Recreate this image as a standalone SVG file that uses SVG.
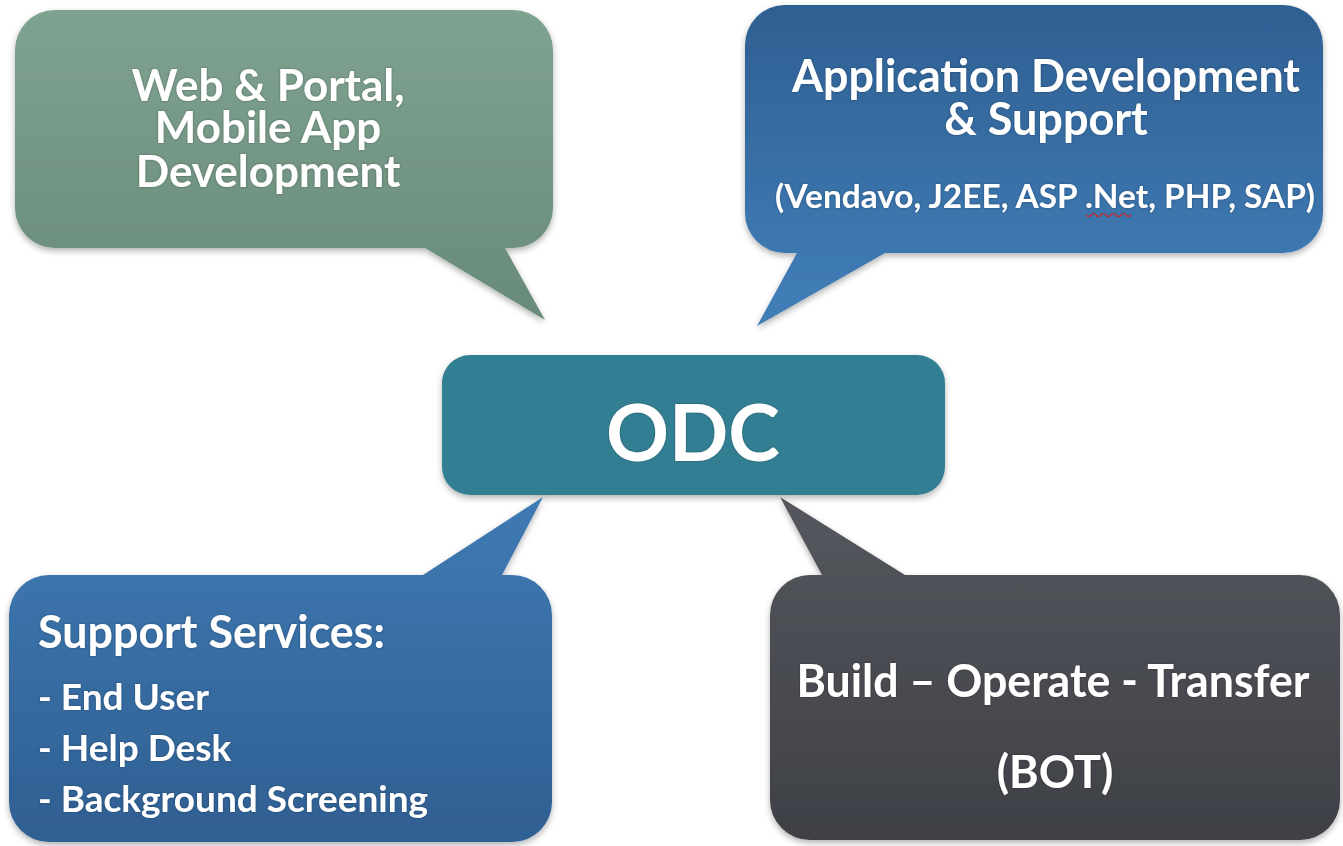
<svg xmlns="http://www.w3.org/2000/svg" width="1343" height="846" viewBox="0 0 1343 846">
<defs>
<linearGradient id="gGreen" x1="0" y1="0" x2="0" y2="1"><stop offset="0" stop-color="#80a290"/><stop offset="1" stop-color="#688a78"/></linearGradient>
<linearGradient id="gBlueTop" x1="0" y1="0" x2="0" y2="1"><stop offset="0" stop-color="#2e5f92"/><stop offset="1" stop-color="#427fb9"/></linearGradient>
<linearGradient id="gBlueBot" x1="0" y1="0" x2="0" y2="1"><stop offset="0" stop-color="#3f7ab3"/><stop offset="1" stop-color="#2f5f92"/></linearGradient>
<linearGradient id="gGray" x1="0" y1="0" x2="0" y2="1"><stop offset="0" stop-color="#55575e"/><stop offset="1" stop-color="#3f4046"/></linearGradient>
<filter id="sh" x="-5%" y="-5%" width="110%" height="115%"><feDropShadow dx="0" dy="3" stdDeviation="3" flood-color="#000" flood-opacity="0.3"/></filter>
<filter id="tsh" x="-5%" y="-20%" width="110%" height="140%"><feDropShadow dx="0" dy="0" stdDeviation="1" flood-color="#000" flood-opacity="0.35"/></filter>
</defs>
<style>
text{font-family:Lato,"Open Sans","Liberation Sans",sans-serif;font-weight:bold;fill:#fff;}
.c{text-anchor:middle;}
</style>
<rect width="1343" height="846" fill="#fff"/>
<g id="connectors"></g>
<g id="web" filter="url(#sh)">
<path d="M55,10 H513 A40,40 0 0 1 553,50 V208 A40,40 0 0 1 513,248 H505 L545,320 L425,248 H55 A40,40 0 0 1 15,208 V50 A40,40 0 0 1 55,10 Z" fill="url(#gGreen)"/>
<g filter="url(#tsh)">
<text class="c" x="268" y="101" font-size="44">Web &amp; Portal,</text>
<text class="c" x="268" y="143" font-size="44">Mobile App</text>
<text class="c" x="268" y="187" font-size="44">Development</text>
</g>
</g>
<g id="app" filter="url(#sh)">
<path d="M785,5 H1283 A40,40 0 0 1 1323,45 V213 A40,40 0 0 1 1283,253 H885 L757,326 L797,253 H785 A40,40 0 0 1 745,213 V45 A40,40 0 0 1 785,5 Z" fill="url(#gBlueTop)"/>
<g filter="url(#tsh)">
<text x="792" y="92" font-size="45" textLength="508" lengthAdjust="spacingAndGlyphs">Application Development</text>
<text class="c" x="1046" y="135" font-size="45">&amp; Support</text>
<text class="c" x="1045" y="208" font-size="33" textLength="540" lengthAdjust="spacingAndGlyphs">(Vendavo, J2EE, ASP .Net, PHP, SAP)</text>
</g>
<path d="M1086,215 q2.5,3 5,0 t5,0 t5,0 t5,0 t5,0 t5,0 t5,0 t5,0 t5,0" fill="none" stroke="#d02020" stroke-width="1.2"/>
</g>
<g id="odc" filter="url(#sh)">
<rect x="442" y="355" width="503" height="140" rx="28" fill="#337f93"/>
<text class="c" x="693" y="461" font-size="78" filter="url(#tsh)">ODC</text>
</g>
<g id="support" filter="url(#sh)">
<path d="M49,575 H423 L543,497 L502,575 H512 A40,40 0 0 1 552,615 V802 A40,40 0 0 1 512,842 H49 A40,40 0 0 1 9,802 V615 A40,40 0 0 1 49,575 Z" fill="url(#gBlueBot)"/>
<g filter="url(#tsh)">
<text x="38" y="648" font-size="45" textLength="347" lengthAdjust="spacingAndGlyphs">Support Services:</text>
<text x="38" y="710" font-size="37">- End User</text>
<text x="38" y="761" font-size="37">- Help Desk</text>
<text x="38" y="812" font-size="37" textLength="390" lengthAdjust="spacingAndGlyphs">- Background Screening</text>
</g>
</g>
<g id="bot" filter="url(#sh)">
<path d="M810,575 H822 L780,497 L905,575 H1300 A40,40 0 0 1 1340,615 V800 A40,40 0 0 1 1300,840 H810 A40,40 0 0 1 770,800 V615 A40,40 0 0 1 810,575 Z" fill="url(#gGray)"/>
<g filter="url(#tsh)">
<text class="c" x="1053" y="697" font-size="45" textLength="513" lengthAdjust="spacingAndGlyphs">Build – Operate - Transfer</text>
<text class="c" x="1055" y="788" font-size="45">(BOT)</text>
</g>
</g>
</svg>
